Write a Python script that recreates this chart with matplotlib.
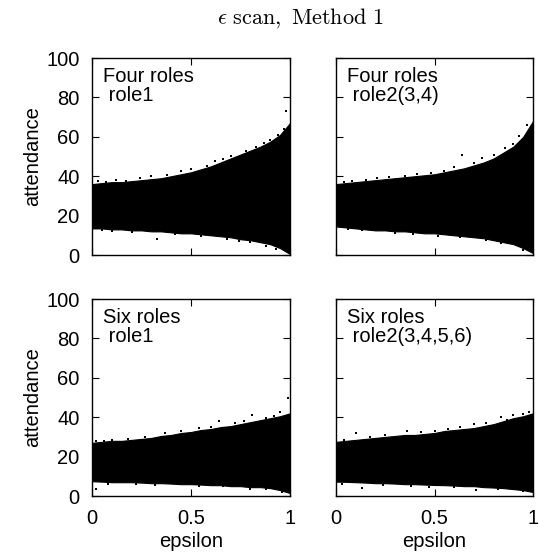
import matplotlib
matplotlib.use('Agg')
import matplotlib.pyplot as plt
import numpy as np

eps = [0.0, 0.05, 0.1, 0.15, 0.2, 0.25, 0.3, 0.35, 0.4, 0.45, 0.5,
       0.55, 0.6, 0.65, 0.7, 0.75, 0.8, 0.85, 0.9, 0.95, 1.0]

# four roles, role1
tl_upper = [36, 36.5, 37, 37, 37.5, 38, 38.5, 39, 40, 41, 42,
            43.5, 45, 47, 49, 51, 53, 55, 57.5, 61, 67]
tl_lower = [13.5, 13.5, 13, 13, 12.5, 12.5, 12, 12, 11.5, 11, 11,
            10.5, 10, 9.5, 9, 8, 7.5, 6.5, 5.5, 3.5, 0.5]
tl_dots_x = [0.03, 0.07, 0.12, 0.17, 0.24, 0.3, 0.38, 0.45, 0.5, 0.58, 0.62, 0.66,
             0.7, 0.78, 0.83, 0.87, 0.9, 0.94, 0.97, 0.98,
             0.05, 0.1, 0.2, 0.33, 0.42, 0.55, 0.68, 0.74, 0.8, 0.88, 0.93]
tl_dots_y = [37.5, 37, 38, 37.5, 39, 40, 40.5, 42.5, 43.5, 45, 47.5, 48.5,
             50.5, 53, 55, 57, 58.5, 61, 64, 73,
             12.5, 12, 11.5, 8, 10.5, 9.5, 8, 7, 6.5, 4.5, 3]

# four roles, role2(3,4)
tr_upper = [36, 36.5, 37, 37.5, 38, 38.5, 39, 39.5, 40, 40.5, 41,
            42, 43, 44, 45.5, 47, 49, 52, 55, 60, 68]
tr_lower = [14.5, 14, 13.5, 13, 12.5, 12.5, 12, 12, 11.5, 11, 11,
            10.5, 10, 9.5, 9, 8.5, 7.5, 6.5, 5.5, 3.5, 1]
tr_dots_x = [0.04, 0.08, 0.15, 0.21, 0.27, 0.35, 0.41, 0.48, 0.55, 0.6, 0.64,
             0.7, 0.74, 0.8, 0.86, 0.9, 0.93, 0.97,
             0.06, 0.13, 0.3, 0.39, 0.52, 0.63, 0.76, 0.84, 0.95]
tr_dots_y = [37, 37.5, 38, 39, 39.5, 40, 41, 41.5, 42.5, 44.5, 51,
             46.5, 49.5, 51, 54.5, 56.5, 60.5, 66,
             13, 12.5, 11, 10.5, 9.5, 9, 7.5, 6, 2.5]

# six roles, role1
bl_upper = [27, 27.5, 28, 28, 28.5, 29, 29.5, 30.5, 31, 32, 32.5,
            33.5, 34, 35, 35.5, 36.5, 37.5, 38.5, 39.5, 40.5, 42]
bl_lower = [7.5, 7.3, 7, 7, 7, 6.8, 6.5, 6.5, 6.3, 6, 6,
            5.8, 5.5, 5.5, 5, 5, 4.5, 4.5, 4, 3, 1.5]
bl_dots_x = [0.02, 0.06, 0.1, 0.18, 0.27, 0.37, 0.45, 0.54, 0.6, 0.64, 0.72, 0.77,
             0.81, 0.88, 0.92, 0.95, 0.99,
             0.02, 0.08, 0.22, 0.32, 0.54, 0.66, 0.8, 0.88, 0.96]
bl_dots_y = [28, 28, 28.5, 29, 30, 32, 33, 34.5, 35, 38, 37, 38,
             41, 39.5, 40.5, 42.5, 50,
             3.5, 6, 6, 5.5, 5, 5, 3.5, 3.5, 2]

# six roles, role2(3,4,5,6)
br_upper = [27.5, 28, 28.5, 29, 29.5, 30, 30.5, 31, 31, 31.5, 32,
            33, 33.5, 34, 34.5, 35.5, 36.5, 38, 39.5, 40.5, 42]
br_lower = [7.3, 7.2, 7, 6.8, 6.5, 6.5, 6.3, 6, 6, 5.8, 5.6,
            5.5, 5.3, 5, 5, 4.5, 4.3, 4, 3.5, 3, 2]
br_dots_x = [0.04, 0.1, 0.17, 0.25, 0.36, 0.43, 0.5, 0.57, 0.63, 0.7,
             0.76, 0.84, 0.87, 0.9, 0.95, 0.98,
             0.03, 0.13, 0.24, 0.38, 0.47, 0.6, 0.71, 0.82, 0.95]
br_dots_y = [28.5, 32, 30, 31, 33, 32.5, 33, 34, 35, 36.5,
             37, 40, 38.5, 41, 41.5, 42.5,
             6, 4, 5.5, 5, 4.5, 4.5, 3, 3.5, 2.5]

panels = [
    ("Four roles\n role1", tl_upper, tl_lower, tl_dots_x, tl_dots_y),
    ("Four roles\n role2(3,4)", tr_upper, tr_lower, tr_dots_x, tr_dots_y),
    ("Six roles\n role1", bl_upper, bl_lower, bl_dots_x, bl_dots_y),
    ("Six roles\n role2(3,4,5,6)", br_upper, br_lower, br_dots_x, br_dots_y),
]

plt.rcParams['font.family'] = ['Liberation Sans', 'DejaVu Sans']
plt.rcParams['mathtext.fontset'] = 'cm'
fs = 14.5

fig = plt.figure(figsize=(5.39, 5.58), dpi=100)
rects = [[0.1707, 0.5430, 0.3673, 0.3530],
         [0.6234, 0.5430, 0.3655, 0.3530],
         [0.1707, 0.1111, 0.3673, 0.3530],
         [0.6234, 0.1111, 0.3655, 0.3530]]

for i, (label, upper, lower, dx, dy) in enumerate(panels):
    ax = fig.add_axes(rects[i])
    ax.fill_between(eps, lower, upper, color='black', linewidth=0.8)
    ax.scatter(dx, dy, s=3, marker='s', color='black', linewidths=0)
    ax.set_xlim(0, 1)
    ax.set_ylim(0, 100)
    ax.set_xticks([0, 0.5, 1])
    ax.set_yticks([0, 20, 40, 60, 80, 100])
    ax.tick_params(direction='in', length=5, width=0.8, top=True, right=True,
                   labelsize=fs, pad=9)
    ax.set_xticklabels(['0', '0.5', '1'])
    if i % 2 == 1:
        ax.set_yticklabels([])
    if i < 2:
        ax.set_xticklabels([])
    else:
        ax.set_xlabel('epsilon', fontsize=fs, labelpad=3)
    if i % 2 == 0:
        ax.set_ylabel('attendance', fontsize=fs, labelpad=3)
    for sp in ax.spines.values():
        sp.set_linewidth(1.0)
    ax.text(0.055, 0.955, label, transform=ax.transAxes, fontsize=fs,
            va='top', ha='left', linespacing=1.0)

fig.text(0.557, 0.968, r'$\epsilon\ \mathrm{scan,\ Method\ 1}$', fontsize=16,
         ha='center', va='center')

plt.savefig('out.png', dpi=100)
